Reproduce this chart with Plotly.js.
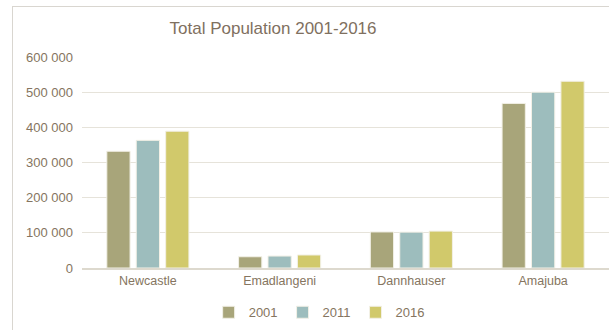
<!DOCTYPE html>
<html>
<head>
<meta charset="utf-8">
<script src="https://cdn.plot.ly/plotly-3.0.1.min.js"></script>
<style>
  html, body { margin: 0; padding: 0; background: #ffffff; overflow: hidden; }
  #wrap { position: relative; width: 609px; height: 330px; }
  #frame { position: absolute; left: 12px; top: 6px; width: 620px; height: 340px;
           border-left: 1px solid #D9D6D0; border-top: 1px solid #D9D6D0; box-sizing: border-box; }
  #chart { position: absolute; left: 0; top: 0; width: 609px; height: 330px; }
</style>
</head>
<body>
<div id="wrap">
  <div id="frame"></div>
  <div id="chart"></div>
</div>
<script>
const categories = ["Newcastle", "Emadlangeni", "Dannhauser", "Amajuba"];
const seriesNames = ["2001", "2011", "2016"];
const values2001 = [332000, 32000, 102500, 468000];
const values2011 = [363000, 34000, 102000, 500000];
const values2016 = [389000, 37000, 105000, 531000];
const yTicks = [0, 100000, 200000, 300000, 400000, 500000, 600000];

const colors = ["#A8A57A", "#9DBDBD", "#D1C96B"];
const allValues = [values2001, values2011, values2016];

const traces = allValues.map((vals, i) => ({
  type: "bar",
  name: seriesNames[i],
  x: categories,
  y: vals,
  marker: { color: colors[i], line: { color: "#F2F0E6", width: 1 } },
  hoverinfo: "skip"
}));

const textColor = "#857560";
const layout = {
  width: 609,
  height: 330,
  margin: { l: 82, r: 0, t: 57, b: 62 },
  paper_bgcolor: "rgba(0,0,0,0)",
  plot_bgcolor: "rgba(0,0,0,0)",
  separators: ". ",
  font: { family: "Liberation Sans, Arial, sans-serif", size: 13, color: textColor },
  title: {
    text: "Total Population 2001-2016",
    font: { family: "Liberation Sans, Arial, sans-serif", size: 17, color: "#7F7060" },
    x: 273 / 609, xanchor: "center", xref: "container",
    y: 1 - 28 / 330, yanchor: "middle", yref: "container"
  },
  barmode: "group",
  bargap: 0.33,
  bargroupgap: 0.21,
  xaxis: {
    type: "category",
    showgrid: false,
    showline: true,
    linecolor: "#DDD9CE",
    linewidth: 2,
    ticks: "",
    tickfont: { size: 12.5, color: textColor },
    fixedrange: true
  },
  yaxis: {
    range: [0, 600000],
    tickvals: yTicks,
    tickformat: ",d",
    showgrid: true,
    gridcolor: "#E6E3DA",
    gridwidth: 1,
    zeroline: false,
    showline: false,
    ticks: "",
    ticklabelstandoff: 8,
    tickfont: { size: 13, color: textColor },
    fixedrange: true
  },
  showlegend: true,
  legend: {
    orientation: "h",
    x: 0.45, xanchor: "center",
    y: -0.21, yanchor: "middle",
    font: { size: 13, color: textColor },
    itemwidth: 30,
    tracegroupgap: 0,
    bgcolor: "rgba(0,0,0,0)"
  }
};

Plotly.newPlot("chart", traces, layout, { displayModeBar: false, staticPlot: true });
</script>
</body>
</html>
